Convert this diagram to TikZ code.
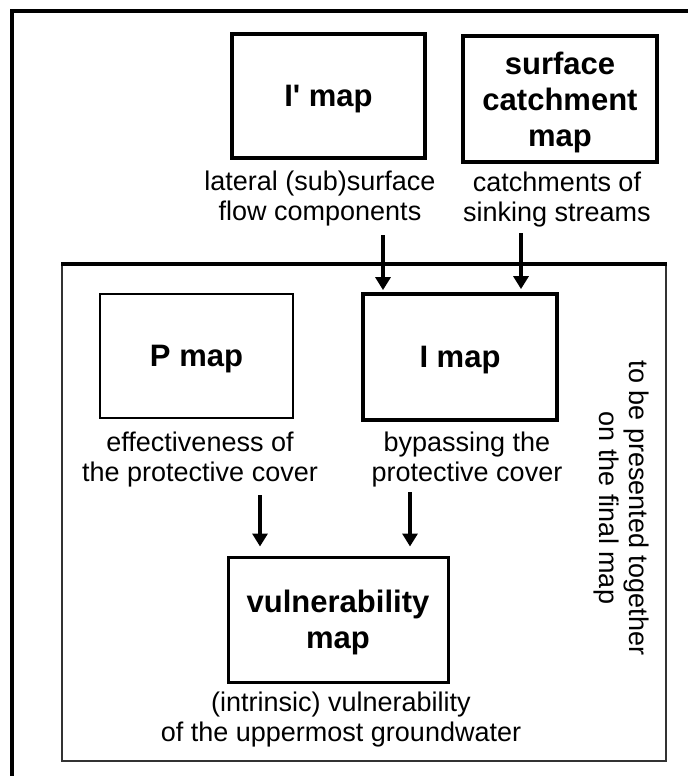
\documentclass[tikz,border=0pt]{standalone}
\usepackage{fontspec}
\setmainfont{Liberation Sans}
\usetikzlibrary{arrows.meta}
\tikzset{
  mapbox/.style={draw, line width=#1, inner sep=0pt, align=center, text depth=0pt,
    font=\fontsize{31}{36}\selectfont\bfseries},
  mapbox/.default=3.5pt,
  caption/.style={align=center, inner sep=0pt, font=\fontsize{27}{30}\selectfont},
  flow/.style={line width=3.6pt, -{Triangle[width=15pt,length=13pt]}},
  frameline/.style={line width=3.5pt},
}
\begin{document}
\begin{tikzpicture}[x=1pt,y=-1pt]
\useasboundingbox (0,0) rectangle (688,776);
\fill[white] (0,0) rectangle (688,776);
% outer frame (only left and top visible)
\draw[frameline] (12,776) -- (12,11) -- (688,11);
% group box
\draw[line width=2.2pt, black!80] (62,264) rectangle (666,761);
\draw[line width=4pt] (61,264) -- (667,264);

% map boxes
\node[mapbox=3.8pt, minimum width=193pt, minimum height=124pt] (iprime) at (328.5,96) {I\textquotesingle{} map};
\node[mapbox=3.8pt, minimum width=194pt, minimum height=126pt] (surf) at (560,99) {surface\\catchment\\map};
\node[mapbox=1.8pt, minimum width=193pt, minimum height=124pt] (pmap) at (196.5,356) {P map};
\node[mapbox=3.8pt, minimum width=194pt, minimum height=126pt] (imap) at (460,357) {I map};
\node[mapbox=3pt, minimum width=220pt, minimum height=125pt] (vmap) at (338,619.5) {vulnerability\\map};

% captions
\node[caption] (cI) at (320,199) {lateral (sub)surface\\flow components};
\node[caption] (cS) at (557,200) {catchments of\\sinking streams};
\node[caption] (cP) at (200,460) {effectiveness of\\the protective cover};
\node[caption] (cImap) at (467,460) {bypassing the\\protective cover};
\node[caption] (cV) at (341,720) {(intrinsic) vulnerability\\of the uppermost groundwater};
\node[caption, rotate=-90] (note) at (621,508) {to be presented together\\on the final map};

% arrows
\coordinate (s1) at (383,235);
\coordinate (s2) at (521,233);
\coordinate (s3) at (260,495);
\coordinate (s4) at (410,492);
\draw[flow] (s1) -- ([yshift=2pt]s1 |- imap.north);
\draw[flow] (s2) -- ([yshift=3pt]s2 |- imap.north);
\draw[flow] (s3) -- ([yshift=9pt]s3 |- vmap.north);
\draw[flow] (s4) -- ([yshift=9pt]s4 |- vmap.north);
\end{tikzpicture}
\end{document}
